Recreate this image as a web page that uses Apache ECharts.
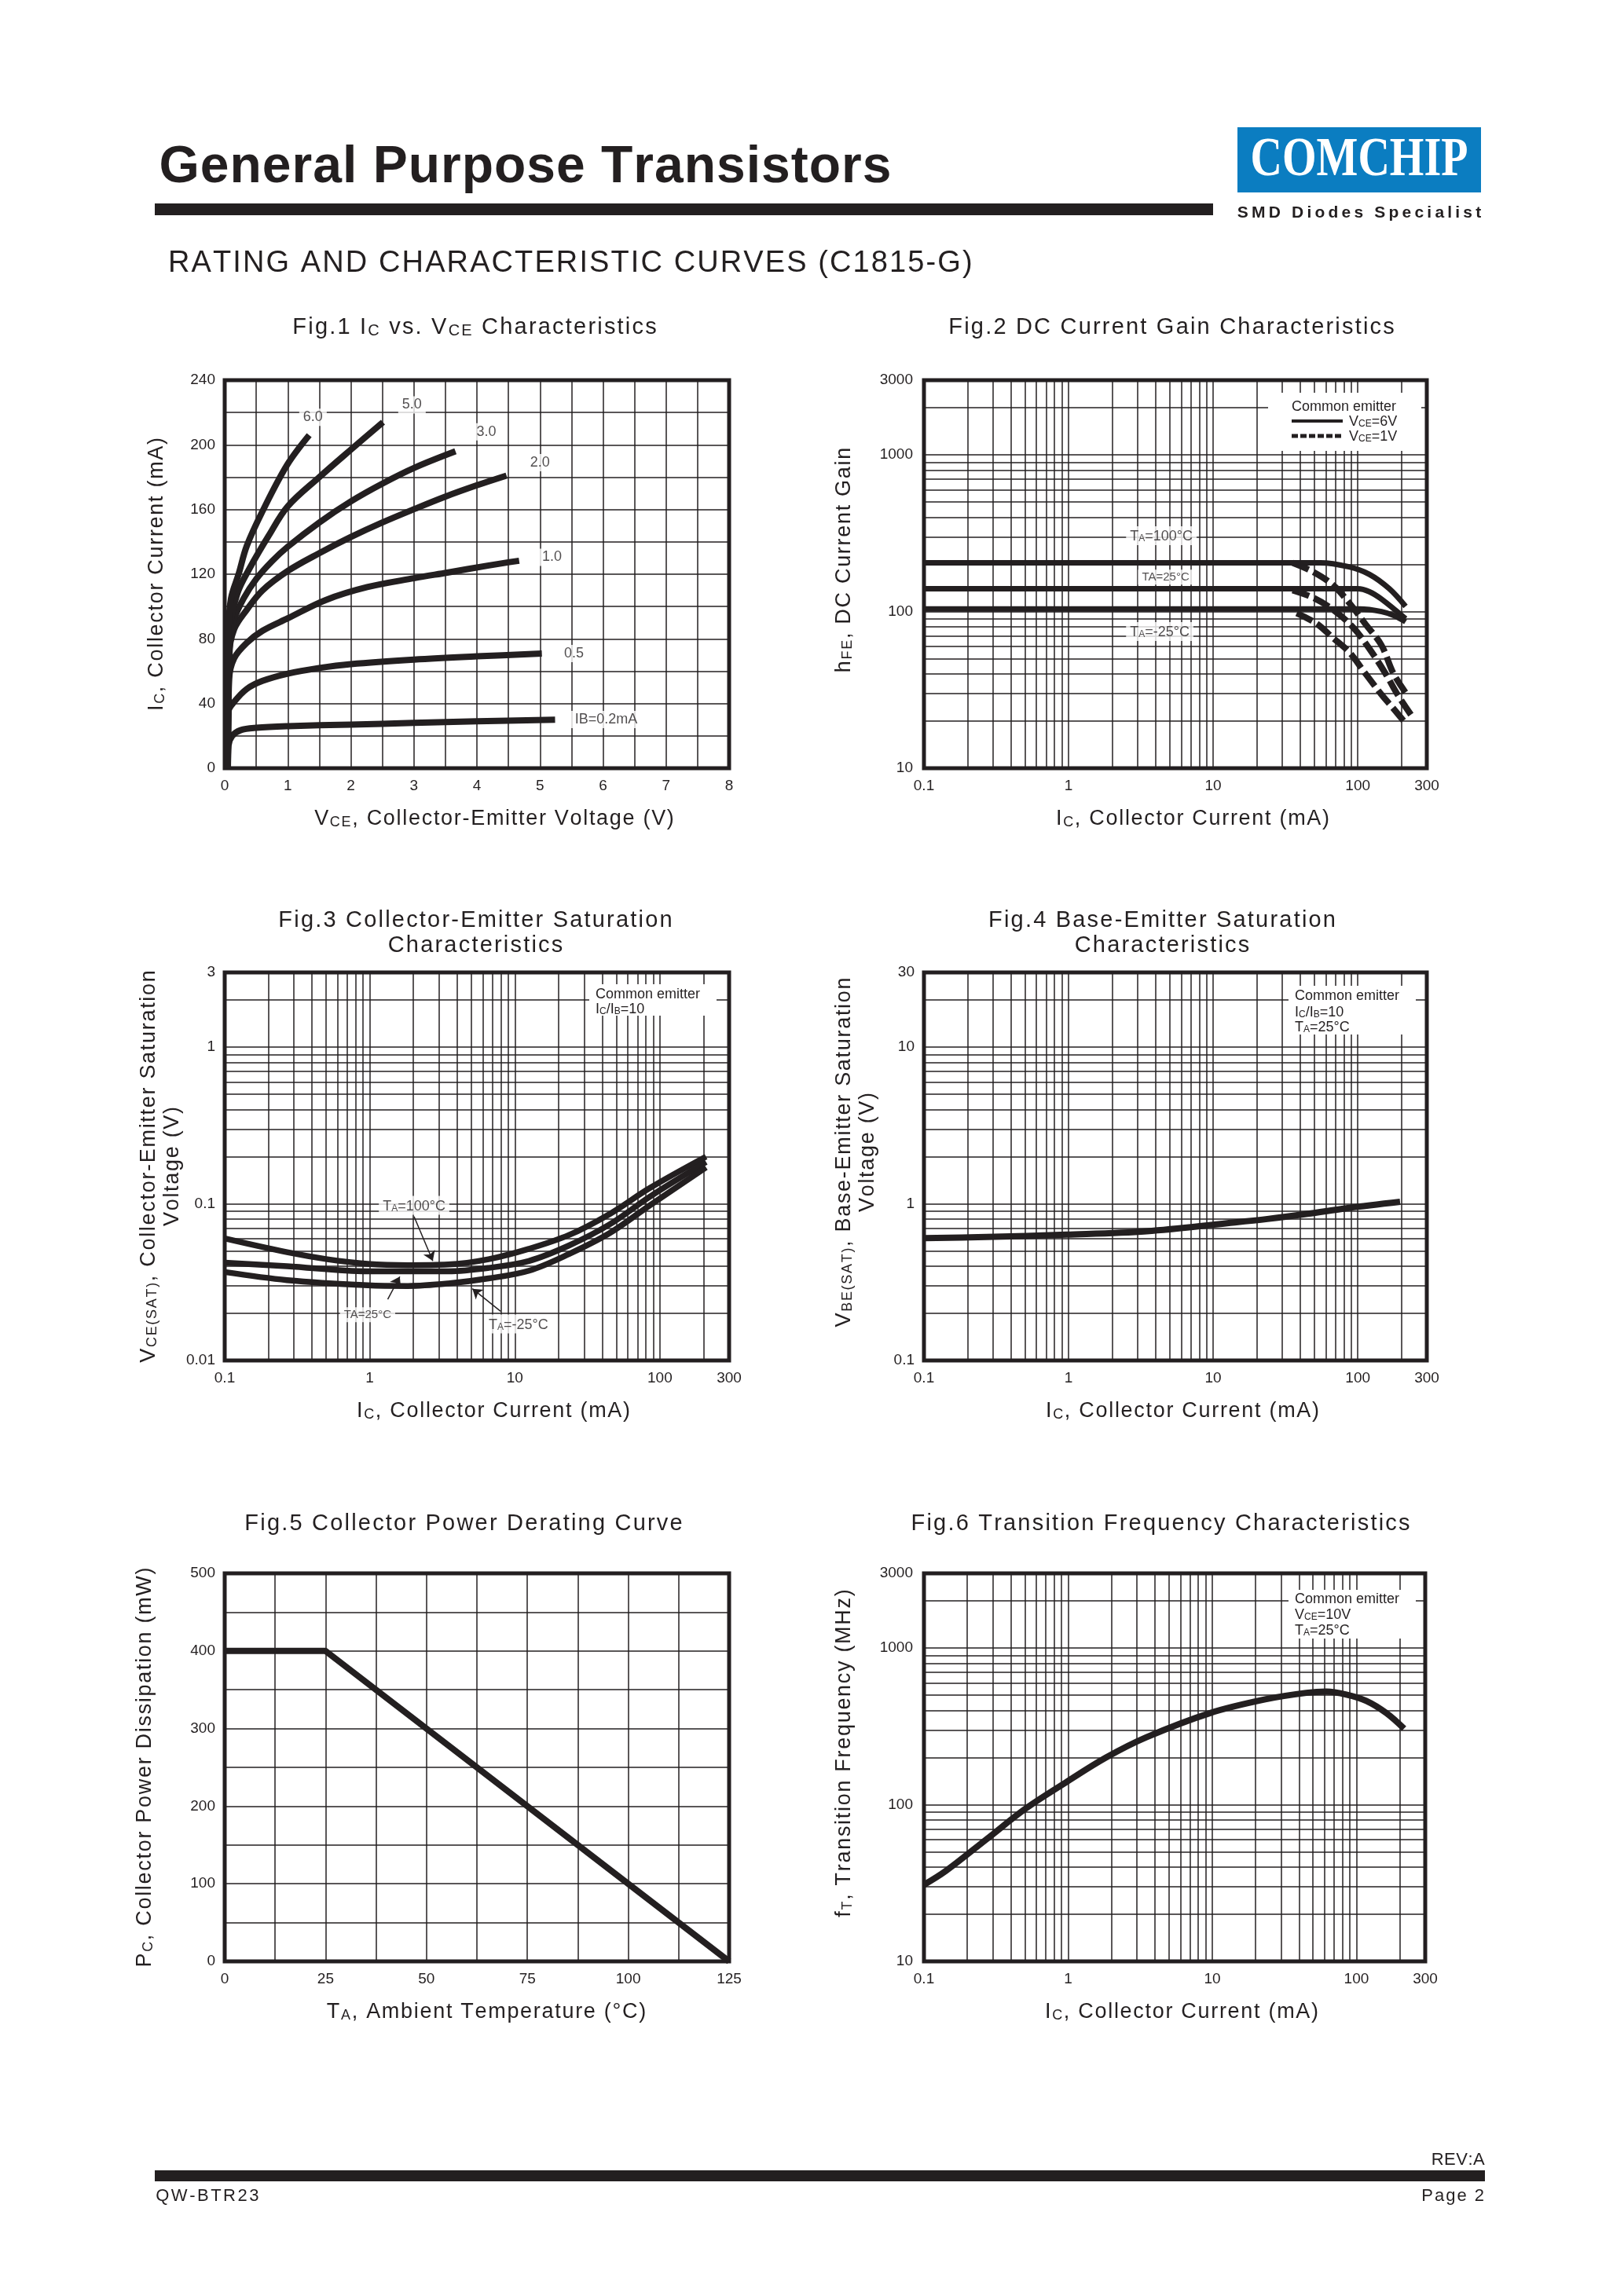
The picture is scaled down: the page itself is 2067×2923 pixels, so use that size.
<!DOCTYPE html>
<html>
<head>
<meta charset="utf-8">
<script src="https://cdn.jsdelivr.net/npm/echarts@6/dist/echarts.min.js"></script>
<style>html,body{margin:0;padding:0;background:#fff}#c{width:2067px;height:2923px}</style>
</head>
<body>
<div id="c"></div>
<script>
const INK = '#231f20';
const FONT = "'Liberation Sans', Arial, Helvetica, sans-serif";

// ---------------- Fig.1  Ic vs VCE (VCE [V], Ic [mA]) ----------------
const F1_IB_02 = [[0.05,0],[0.06,14],[0.12,20],[0.25,23.5],[0.5,25],[1,26],[2,27],[3,28],[4,29],[5.24,30]];
const F1_IB_05 = [[0.05,0],[0.06,35],[0.15,41],[0.35,49],[0.6,54],[1,58.5],[1.5,62],[2,64.4],[3,67.2],[4,69.2],[5.03,70.9]];
const F1_IB_10 = [[0.05,0],[0.07,55],[0.15,68],[0.35,77.5],[0.6,85],[1,92.7],[1.6,104],[2.26,112],[3,117.5],[3.53,121],[4.17,125.3],[4.67,128.3]];
const F1_IB_20 = [[0.05,0],[0.07,70],[0.15,86],[0.35,98],[0.6,110],[1,122],[1.5,133],[2,143],[2.5,152],[3.02,160.5],[3.5,168],[4,175],[4.47,181]];
const F1_IB_30 = [[0.05,0],[0.08,75],[0.15,92],[0.3,105],[0.5,117],[0.75,128],[1,137],[1.5,152],[2,165],[2.5,176],[3.02,186],[3.66,196]];
const F1_IB_50 = [[0.05,0],[0.08,85],[0.2,108],[0.4,124],[0.7,144],[1,162],[1.5,180],[2,197],[2.51,214]];
const F1_IB_60 = [[0.05,0],[0.06,85],[0.1,105],[0.22,120],[0.35,137.5],[0.6,159],[0.99,187.6],[1.34,206]];
const F1_LABELS = [[1.40,217,'6.0'],[2.97,224.7,'5.0'],[4.15,208,'3.0'],[5.0,189,'2.0'],[5.19,130.5,'1.0'],[5.54,70.9,'0.5'],[6.05,30.1,'IB=0.2mA']];

// ---------------- Fig.2  hFE vs Ic ----------------
const F2_T100_6V = [[0.1,205],[55,205],[87,193],[120,173],[165,140],[214,108]];
const F2_T25_6V  = [[0.1,140],[100,140],[120,134],[146,120],[214,90]];
const F2_TM25_6V = [[0.1,104],[103,104],[146,100],[180,94],[214,86]];
const F2_T100_1V = [[35.4,205],[48.8,180],[67.3,148],[87,114],[112.5,83.6],[145.5,61.2],[176,40.4],[214,30.4]];
const F2_T25_1V  = [[35.4,137],[48.8,123],[67.3,103],[92.8,79.3],[120,58.1],[155,40.4],[188,29.6],[235,21.7]];
const F2_TM25_1V = [[37.8,97.7],[52.1,83.6],[67.3,67.9],[87,55.2],[112.5,40.4],[145.5,29.6],[176,24.1],[207,20.1]];
const F2_LABELS = [[4.38,305,'{n|T}{s|A}{n|=100°C}'],[4.69,166,'{m|TA=25°C}'],[4.27,74.5,'{n|T}{s|A}{n|=-25°C}']];

// ---------------- Fig.3  VCE(sat) vs Ic ----------------
const F3_T100 = [[0.1,0.0601],[0.269,0.0491],[0.509,0.0443],[0.966,0.0414],[1.83,0.0406],[3.47,0.0410],[6.59,0.0443],[12.5,0.0516],[23.7,0.0633],[44.9,0.086],[85.1,0.126],[208,0.2]];
const F3_T25  = [[0.1,0.0421],[0.269,0.0400],[0.966,0.0371],[3.47,0.0371],[6.59,0.0390],[12.5,0.0432],[23.7,0.0543],[44.9,0.0738],[85.1,0.111],[208,0.185]];
const F3_TM25 = [[0.1,0.0367],[0.269,0.0326],[0.966,0.0302],[1.83,0.0299],[3.47,0.0310],[6.59,0.0334],[12.5,0.0374],[23.7,0.0479],[44.9,0.0649],[85.1,0.0977],[208,0.171]];
const F3_LABELS = [[2.02,0.0977,'{n|T}{s|A}{n|=100°C}'],[0.966,0.0196,'{m|TA=25°C}'],[10.6,0.0171,'{n|T}{s|A}{n|=-25°C}']];
const F3_ARROWS = [[[2.02,0.083],[2.72,0.0432]],[[1.33,0.0246],[1.61,0.0343]],[[7.98,0.0206],[5.1,0.0287]]];

// ---------------- Fig.4  VBE(sat) vs Ic ----------------
const F4_VBE = [[0.1,0.604],[0.269,0.614],[0.966,0.636],[3.47,0.669],[12.5,0.752],[23.7,0.80],[44.9,0.863],[85.1,0.94],[196,1.03]];

// ---------------- Fig.5  Pc vs TA ----------------
const F5_PC = [[0,400],[25,400],[125,0]];

// ---------------- Fig.6  fT vs Ic ----------------
const F6_FT = [[0.1,30.8],[0.142,37.8],[0.269,59.8],[0.509,94.7],[0.966,139],[1.83,200],[3.47,269],[9.67,385],[23.7,472],[44.9,518],[61.8,528],[85.1,505],[117,460],[161,385],[214,306]];

// ---------------- log grid helpers ----------------
const MULTS = [2,3,4,5,6,7,8,9];
function minorLines(decades, maxV){ const out=[]; decades.forEach(d=>MULTS.forEach(m=>{const v=+(d*m).toPrecision(3); if(v<maxV-1e-9) out.push(v);})); return out; }
const MINOR_X_IC  = minorLines([0.1,1,10,100], 300);
const MINOR_Y_HFE = minorLines([10,100,1000], 3000);
const MINOR_Y_VCE = minorLines([0.01,0.1,1], 3);
const MINOR_Y_VBE = minorLines([0.1,1,10], 30);

// rich text styles; t = letter tracking in px (applied per character token)
function R(size, t, weight){
  const pad = t ? [0, t/2, 0, t/2] : 0;
  return {
    n:{fontSize:size, fontFamily:FONT, fontWeight:weight||'normal', color:INK, lineHeight:Math.round(size*1.1), verticalAlign:'bottom', padding:pad},
    s:{fontSize:Math.round(size*0.68), fontFamily:FONT, fontWeight:weight||'normal', color:INK, verticalAlign:'bottom', padding:pad},
    m:{fontSize:Math.round(size*0.82), fontFamily:FONT, color:INK, padding:pad}
  };
}
// split every token into per-character tokens (to emulate letter spacing)
const trk = markup => markup.replace(/\{(\w+)\|([^}]*)\}/g, (m, st, tx) => Array.from(tx).map(c => '{' + st + '|' + c + '}').join(''));

const GRIDS = [
  {left:286, top:484, width:642, height:494},
  {left:1176, top:484, width:640, height:494},
  {left:286, top:1238, width:642, height:494},
  {left:1176, top:1238, width:640, height:494},
  {left:286, top:2003, width:642, height:494},
  {left:1176, top:2003, width:638, height:494}
].map(g=>Object.assign({show:true, borderColor:INK, borderWidth:5, backgroundColor:'rgba(0,0,0,0)', containLabel:false, outerBoundsMode:'none'}, g));

const LABEL = {color:INK, fontSize:19, fontFamily:FONT};
const SPLIT = {show:true, lineStyle:{color:INK, width:1.5}};
const logFmt = v => String(+(+v).toPrecision(4));
const everyFmt = k => v => (Math.abs(v/k - Math.round(v/k)) < 1e-6 ? String(+v.toFixed(3)) : '');

const NAME_SIZE = 27, NAME_TRK = 1.7;
function xAxis(i, o){
  return Object.assign({gridIndex:i, axisLine:{show:false}, axisTick:{show:false}, splitLine:SPLIT,
    nameLocation:'middle', nameGap:48}, o, {axisLabel:Object.assign({}, LABEL, {margin:13}, o.axisLabel||{})});
}
function yAxis(i, o){
  return Object.assign({gridIndex:i, axisLine:{show:false}, axisTick:{show:false}, splitLine:SPLIT,
    nameLocation:'middle'}, o, {axisLabel:Object.assign({}, LABEL, {margin:12}, o.axisLabel||{})});
}
const NR = R(NAME_SIZE, NAME_TRK);
const IC_NAME = trk('{n|I}{s|C}{n|, Collector Current (mA)}');

const xAxes = [
  xAxis(0,{type:'value', min:0, max:8, interval:0.5, axisLabel:{formatter:everyFmt(1)},
    name:trk('{n|V}{s|CE}{n|, Collector-Emitter Voltage (V)}'), nameTextStyle:{rich:NR, padding:[0,0,0,44]}}),
  xAxis(1,{type:'log', min:0.1, max:300, axisLabel:{formatter:logFmt}, name:IC_NAME, nameTextStyle:{rich:NR, padding:[0,0,0,44]}}),
  xAxis(2,{type:'log', min:0.1, max:300, axisLabel:{formatter:logFmt}, name:IC_NAME, nameTextStyle:{rich:NR, padding:[0,0,0,42]}}),
  xAxis(3,{type:'log', min:0.1, max:300, axisLabel:{formatter:logFmt}, name:IC_NAME, nameTextStyle:{rich:NR, padding:[0,0,0,18]}}),
  xAxis(4,{type:'value', min:0, max:125, interval:12.5, axisLabel:{formatter:everyFmt(25)},
    name:trk('{n|T}{s|A}{n|, Ambient Temperature (°C)}'), nameTextStyle:{rich:NR, padding:[0,0,0,24]}}),
  xAxis(5,{type:'log', min:0.1, max:300, axisLabel:{formatter:logFmt}, name:IC_NAME, nameTextStyle:{rich:NR, padding:[0,0,0,18]}})
];
const yAxes = [
  yAxis(0,{type:'value', min:0, max:240, interval:20, axisLabel:{formatter:everyFmt(40)},
    name:IC_NAME, nameGap:73, nameTextStyle:{rich:NR}}),
  yAxis(1,{type:'log', min:10, max:3000, axisLabel:{formatter:logFmt, margin:14},
    name:trk('{n|h}{s|FE}{n|, DC Current Gain}'), nameGap:88, nameTextStyle:{rich:NR, padding:[0,0,0,36]}}),
  yAxis(2,{type:'log', min:0.01, max:3, axisLabel:{formatter:logFmt},
    name:trk('{n|V}{s|CE(SAT)}{n|, Collector-Emitter Saturation}') + '\n' + trk('{n|Voltage (V)}'), nameGap:49, nameTextStyle:{rich:NR}}),
  yAxis(3,{type:'log', min:0.1, max:30, axisLabel:{formatter:logFmt},
    name:trk('{n|V}{s|BE(SAT)}{n|, Base-Emitter Saturation}') + '\n' + trk('{n|Voltage (V)}'), nameGap:58, nameTextStyle:{rich:NR, padding:[0,0,0,36]}}),
  yAxis(4,{type:'value', min:0, max:500, interval:50, axisLabel:{formatter:everyFmt(100)},
    name:trk('{n|P}{s|C}{n|, Collector Power Dissipation (mW)}'), nameGap:88, nameTextStyle:{rich:NR}}),
  yAxis(5,{type:'log', min:10, max:3000, axisLabel:{formatter:logFmt, margin:14},
    name:trk('{n|f}{s|T}{n|, Transition Frequency (MHz)}'), nameGap:88, nameTextStyle:{rich:NR, padding:[0,0,0,36]}})
];

function gridLines(i, xs, ys, anchor){
  return {type:'line', xAxisIndex:i, yAxisIndex:i, data:[anchor], symbol:'none', silent:true, z:1,
    lineStyle:{width:0},
    markLine:{silent:true, symbol:['none','none'], precision:6, animation:false, label:{show:false},
      emphasis:{disabled:true}, lineStyle:{color:INK, width:1.5, type:'solid'},
      data:[...xs.map(v=>({xAxis:v})), ...ys.map(v=>({yAxis:v}))]}};
}
function curve(i, data, w, opts){
  opts = opts || {};
  return {type:'line', xAxisIndex:i, yAxisIndex:i, data, symbol:'none', showSymbol:false,
    smooth: opts.smooth === undefined ? 0.35 : opts.smooth, silent:true, z:3,
    lineStyle:{color:INK, width:w, type: opts.dash || 'solid', cap:'butt', join:'round'}};
}
function labels(i, data, size){
  return {type:'scatter', xAxisIndex:i, yAxisIndex:i, data, symbol:'circle', symbolSize:1, silent:true, z:6,
    itemStyle:{color:'rgba(0,0,0,0)'},
    label:{show:true, position:'inside', formatter:p=>p.data[2], color:INK, fontSize:size, fontFamily:FONT,
      backgroundColor:'#fff', padding:[2,5], rich:R(size)}};
}

const series = [
  gridLines(1, MINOR_X_IC, MINOR_Y_HFE, [1,100]),
  gridLines(2, MINOR_X_IC, MINOR_Y_VCE, [1,0.1]),
  gridLines(3, MINOR_X_IC, MINOR_Y_VBE, [1,1]),
  gridLines(5, MINOR_X_IC, MINOR_Y_HFE, [1,100]),
  // Fig1
  ...[F1_IB_02, F1_IB_05, F1_IB_10, F1_IB_20, F1_IB_30, F1_IB_50, F1_IB_60].map(d=>curve(0, d, 8)),
  labels(0, F1_LABELS, 18),
  // Fig2
  ...[F2_T100_6V, F2_T25_6V, F2_TM25_6V].map(d=>curve(1, d, 7)),
  ...[F2_T100_1V, F2_T25_1V, F2_TM25_1V].map(d=>curve(1, d, 8, {dash:[22,7]})),
  labels(1, F2_LABELS, 18),
  // Fig3
  ...[F3_T100, F3_T25, F3_TM25].map(d=>curve(2, d, 7.5)),
  {type:'lines', coordinateSystem:'cartesian2d', xAxisIndex:2, yAxisIndex:2, silent:true, z:5,
    symbol:['none','arrow'], symbolSize:12, lineStyle:{color:INK, width:1.5, opacity:1},
    data:F3_ARROWS.map(c=>({coords:c}))},
  labels(2, F3_LABELS, 18),
  // Fig4
  curve(3, F4_VBE, 8),
  // Fig5
  curve(4, F5_PC, 8, {smooth:false}),
  // Fig6
  curve(5, F6_FT, 8)
];

// ---------------- page decorations ----------------
function txt(x, y, text, o){
  o = o || {};
  const st = Object.assign({text, fill:INK, fontFamily:FONT, fontSize:o.size||20, fontWeight:o.weight||'normal',
    align:o.align||'left', textAlign:o.align||'left', verticalAlign:'middle', textVerticalAlign:'middle'}, o.style||{});
  if (o.rich) st.rich = o.rich;
  const el = {type:'text', x, y, z:20, silent:true, style:st};
  if (o.scaleX) el.scaleX = o.scaleX;
  return el;
}
// tracked text (letter-spaced), markup may contain \n between tokens
function ttxt(x, y, markup, size, t, o){
  o = o || {};
  return txt(x, y, markup.split('\n').map(trk).join('\n'), Object.assign({rich:R(size, t, o.weight)}, o));
}
function rect(x, y, w, h, fill, z){ return {type:'rect', shape:{x, y, width:w, height:h}, style:{fill}, z:z||20, silent:true}; }
function hline(x1, x2, y, w, dash){ return {type:'line', shape:{x1, y1:y, x2, y2:y}, style:{stroke:INK, lineWidth:w, lineDash:dash||null}, z:21, silent:true}; }

const T_SIZE = 29, T_TRK = 2.2;

const graphic = [
  ttxt(202, 210, '{n|General Purpose Transistors}', 66, 1, {weight:'bold'}),
  rect(197, 259, 1347, 15, INK),
  rect(1575, 162, 310, 83, '#0b7dc1'),
  txt(1730, 205, 'COMCHIP', {size:70, weight:'bold', align:'center', scaleX:0.8, style:{fill:'#fff', fontFamily:"'Liberation Serif', 'DejaVu Serif', serif"}}),
  ttxt(1730, 270, '{n|SMD Diodes Specialist}', 21, 4.2, {align:'center', weight:'bold'}),
  ttxt(213, 334, '{n|RATING AND CHARACTERISTIC CURVES (C1815-G)}', 38, 2.1),
  // figure titles
  ttxt(604, 415, '{n|Fig.1 I}{s|C}{n| vs. V}{s|CE}{n| Characteristics}', T_SIZE, T_TRK, {align:'center'}),
  ttxt(1491, 415, '{n|Fig.2 DC Current Gain Characteristics}', T_SIZE, T_TRK, {align:'center'}),
  ttxt(605, 1186, '{n|Fig.3 Collector-Emitter Saturation}\n{n|Characteristics}', T_SIZE, T_TRK, {align:'center'}),
  ttxt(1479, 1186, '{n|Fig.4 Base-Emitter Saturation}\n{n|Characteristics}', T_SIZE, T_TRK, {align:'center'}),
  ttxt(590, 1938, '{n|Fig.5 Collector Power Derating Curve}', T_SIZE, T_TRK, {align:'center'}),
  ttxt(1477, 1938, '{n|Fig.6 Transition Frequency Characteristics}', T_SIZE, T_TRK, {align:'center'}),
  // Fig2 legend box
  rect(1614, 500, 195, 74, '#fff', 15),
  txt(1644, 518, 'Common emitter', {size:18}),
  hline(1644, 1709, 536, 4),
  txt(1717, 536, '{n|V}{s|CE}{n|=6V}', {rich:R(18)}),
  hline(1644, 1709, 555, 5, [8,3]),
  txt(1717, 555, '{n|V}{s|CE}{n|=1V}', {rich:R(18)}),
  // Fig3 box
  rect(750, 1253, 162, 40, '#fff', 15),
  txt(758, 1266, 'Common emitter', {size:18}),
  txt(758, 1284, '{n|I}{s|C}{n|/I}{s|B}{n|=10}', {rich:R(18)}),
  // Fig4 box
  rect(1640, 1255, 162, 62, '#fff', 15),
  txt(1648, 1268, 'Common emitter', {size:18}),
  txt(1648, 1288, '{n|I}{s|C}{n|/I}{s|B}{n|=10}', {rich:R(18)}),
  txt(1648, 1307, '{n|T}{s|A}{n|=25°C}', {rich:R(18)}),
  // Fig6 box
  rect(1640, 2024, 162, 62, '#fff', 15),
  txt(1648, 2036, 'Common emitter', {size:18}),
  txt(1648, 2055, '{n|V}{s|CE}{n|=10V}', {rich:R(18)}),
  txt(1648, 2075, '{n|T}{s|A}{n|=25°C}', {rich:R(18)}),
  // footer
  ttxt(1890, 2749, '{n|REV:A}', 22, 0.5, {align:'right'}),
  rect(197, 2763, 1693, 14, INK),
  ttxt(197, 2795, '{n|QW-BTR23}', 22, 2.5),
  ttxt(1890, 2795, '{n|Page 2}', 22, 2, {align:'right'})
];

const chart = echarts.init(document.getElementById('c'), null, {renderer:'canvas', width:2067, height:2923});
chart.setOption({
  animation:false,
  backgroundColor:'#fff',
  textStyle:{fontFamily:FONT, color:INK},
  grid:GRIDS,
  xAxis:xAxes,
  yAxis:yAxes,
  series,
  graphic
});
</script>
</body>
</html>
